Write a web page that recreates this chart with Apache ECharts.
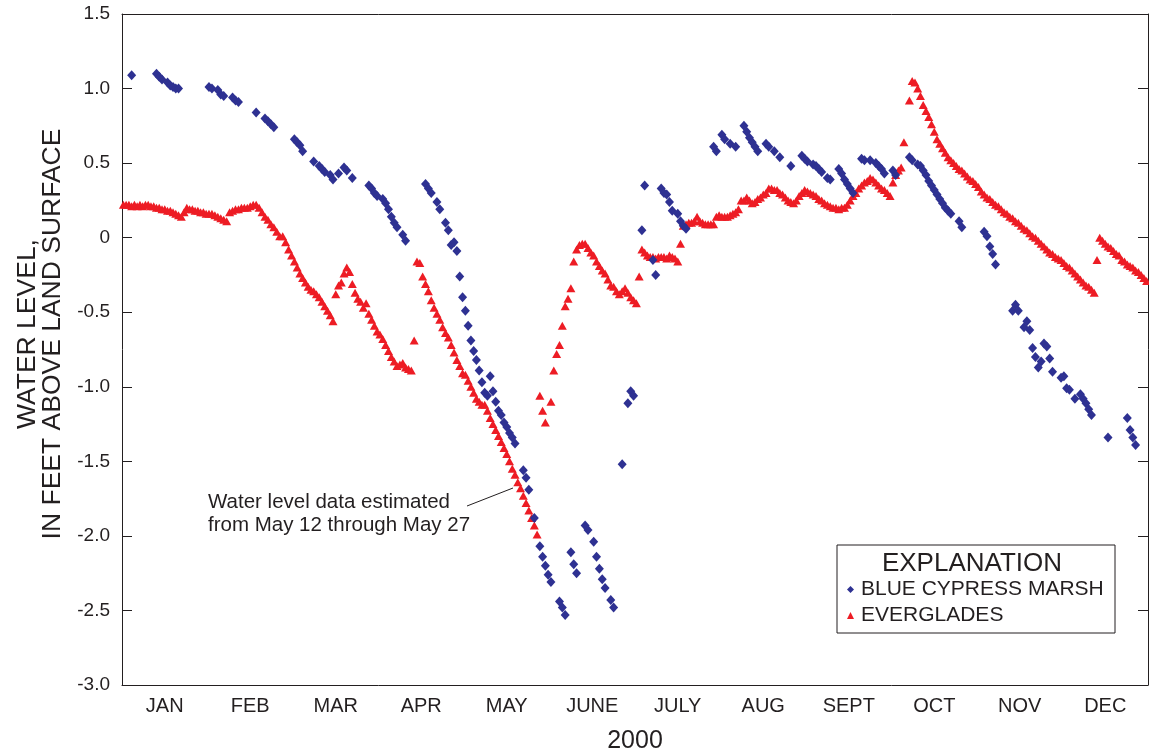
<!DOCTYPE html>
<html>
<head>
<meta charset="utf-8">
<script src="https://cdn.jsdelivr.net/npm/echarts@6/dist/echarts.min.js"></script>
<style>
html,body{margin:0;padding:0;background:#fff;}
#chart{width:1149px;height:753px;}
</style>
</head>
<body>
<div id="chart"></div>
<script>
// ---- data ----
const months = ['JAN','FEB','MAR','APR','MAY','JUNE','JULY','AUG','SEPT','OCT','NOV','DEC'];
const daysInMonth = [31,29,31,30,31,30,31,31,30,31,30,31];
const yearLabel = '2000';

// [month, day, water level (ft above land surface)]
const blueCypressMarsh = [
[1,4,1.09],[1,13,1.10],[1,14,1.08],[1,15,1.06],[1,17,1.04],[1,18,1.02],[1,19,1.01],[1,20,1.00],[1,21,1.00],
[2,1,1.01],[2,2,1.00],[2,4,0.99],[2,5,0.96],[2,6,0.95],[2,9,0.94],[2,10,0.92],[2,11,0.91],[2,17,0.84],[2,20,0.80],[2,21,0.78],[2,22,0.76],[2,23,0.74],
[3,1,0.66],[3,2,0.64],[3,3,0.62],[3,4,0.58],[3,8,0.51],[3,10,0.48],[3,11,0.46],[3,12,0.44],[3,14,0.42],[3,15,0.39],[3,17,0.43],[3,19,0.47],[3,20,0.45],[3,22,0.40],[3,28,0.35],[3,29,0.33],[3,30,0.30],[3,31,0.28],
[4,2,0.26],[4,3,0.23],[4,4,0.19],[4,5,0.14],[4,6,0.10],[4,7,0.07],[4,9,0.02],[4,10,-0.02],[4,17,0.36],[4,18,0.33],[4,19,0.30],[4,21,0.24],[4,22,0.19],[4,24,0.10],[4,25,0.05],[4,26,-0.05],[4,27,-0.03],[4,28,-0.09],[4,29,-0.26],[4,30,-0.40],
[5,1,-0.49],[5,2,-0.59],[5,3,-0.69],[5,4,-0.76],[5,5,-0.82],[5,6,-0.89],[5,7,-0.97],[5,8,-1.04],[5,9,-1.06],[5,10,-0.93],[5,11,-1.03],[5,12,-1.10],[5,13,-1.16],[5,14,-1.19],[5,15,-1.24],[5,16,-1.27],[5,17,-1.31],[5,18,-1.34],[5,19,-1.38],[5,22,-1.56],[5,23,-1.61],[5,24,-1.69],[5,26,-1.88],[5,28,-2.07],[5,29,-2.14],[5,30,-2.20],[5,31,-2.26],
[6,1,-2.31],[6,4,-2.44],[6,5,-2.48],[6,6,-2.53],[6,8,-2.11],[6,9,-2.19],[6,10,-2.25],[6,13,-1.93],[6,14,-1.96],[6,16,-2.04],[6,17,-2.14],[6,18,-2.22],[6,19,-2.29],[6,20,-2.35],[6,22,-2.43],[6,23,-2.48],[6,26,-1.52],[6,28,-1.11],[6,29,-1.03],[6,30,-1.06],
[7,3,0.05],[7,4,0.35],[7,7,-0.15],[7,8,-0.25],[7,10,0.33],[7,11,0.30],[7,12,0.29],[7,13,0.24],[7,14,0.18],[7,16,0.16],[7,17,0.11],[7,18,0.08],[7,19,0.06],[7,29,0.61],[7,30,0.58],
[8,1,0.69],[8,2,0.66],[8,4,0.63],[8,6,0.61],[8,9,0.75],[8,10,0.71],[8,11,0.67],[8,12,0.64],[8,13,0.61],[8,14,0.58],[8,17,0.63],[8,18,0.61],[8,20,0.58],[8,22,0.54],[8,26,0.48],[8,30,0.55],[8,31,0.53],
[9,1,0.51],[9,3,0.49],[9,4,0.48],[9,5,0.46],[9,6,0.44],[9,8,0.40],[9,9,0.39],[9,12,0.46],[9,13,0.43],[9,14,0.39],[9,15,0.36],[9,16,0.33],[9,17,0.30],[9,20,0.53],[9,21,0.52],[9,23,0.52],[9,25,0.50],[9,26,0.48],[9,27,0.46],[9,28,0.43],
[10,1,0.45],[10,2,0.42],[10,7,0.54],[10,8,0.52],[10,10,0.49],[10,11,0.48],[10,12,0.45],[10,13,0.42],[10,14,0.38],[10,15,0.35],[10,16,0.32],[10,17,0.29],[10,18,0.26],[10,19,0.23],[10,20,0.20],[10,21,0.18],[10,22,0.16],[10,25,0.11],[10,26,0.07],
[11,3,0.04],[11,4,0.01],[11,5,-0.06],[11,6,-0.11],[11,7,-0.18],[11,13,-0.49],[11,14,-0.45],[11,15,-0.49],[11,17,-0.60],[11,18,-0.56],[11,19,-0.62],[11,20,-0.74],[11,21,-0.80],[11,22,-0.87],[11,23,-0.83],[11,24,-0.71],[11,25,-0.73],[11,26,-0.81],[11,27,-0.90],[11,30,-0.94],
[12,1,-0.93],[12,2,-1.01],[12,3,-1.02],[12,5,-1.08],[12,7,-1.05],[12,8,-1.08],[12,9,-1.11],[12,10,-1.15],[12,11,-1.19],[12,17,-1.34],[12,24,-1.21],[12,25,-1.29],[12,26,-1.34],[12,27,-1.39]
];

const everglades = [
[1,1,0.22],[1,2,0.22],[1,3,0.22],[1,4,0.21],[1,5,0.22],[1,6,0.21],[1,7,0.22],[1,8,0.21],[1,9,0.22],[1,10,0.22],[1,11,0.21],[1,12,0.21],[1,13,0.20],[1,14,0.20],[1,15,0.19],[1,16,0.19],[1,17,0.18],[1,18,0.18],[1,19,0.17],[1,20,0.16],[1,21,0.15],[1,22,0.14],[1,23,0.17],[1,24,0.20],[1,25,0.19],[1,26,0.19],[1,27,0.18],[1,28,0.18],[1,29,0.17],[1,30,0.17],[1,31,0.16],
[2,1,0.16],[2,2,0.16],[2,3,0.15],[2,4,0.14],[2,5,0.13],[2,6,0.12],[2,7,0.11],[2,8,0.17],[2,9,0.18],[2,10,0.19],[2,11,0.19],[2,12,0.20],[2,13,0.20],[2,14,0.20],[2,15,0.21],[2,16,0.22],[2,17,0.22],[2,18,0.20],[2,19,0.17],[2,20,0.14],[2,21,0.12],[2,22,0.09],[2,23,0.07],[2,24,0.04],[2,25,0.01],[2,26,0.01],[2,27,-0.03],[2,28,-0.08],[2,29,-0.12],
[3,1,-0.16],[3,2,-0.20],[3,3,-0.24],[3,4,-0.27],[3,5,-0.30],[3,6,-0.33],[3,7,-0.35],[3,8,-0.36],[3,9,-0.38],[3,10,-0.40],[3,11,-0.43],[3,12,-0.46],[3,13,-0.49],[3,14,-0.52],[3,15,-0.56],[3,16,-0.38],[3,17,-0.32],[3,18,-0.30],[3,19,-0.24],[3,20,-0.20],[3,21,-0.23],[3,22,-0.31],[3,23,-0.37],[3,24,-0.41],[3,25,-0.43],[3,26,-0.47],[3,27,-0.44],[3,28,-0.51],[3,29,-0.55],[3,30,-0.59],[3,31,-0.63],
[4,1,-0.65],[4,2,-0.68],[4,3,-0.72],[4,4,-0.76],[4,5,-0.80],[4,6,-0.83],[4,7,-0.86],[4,8,-0.85],[4,9,-0.84],[4,10,-0.87],[4,11,-0.88],[4,12,-0.89],[4,13,-0.69],[4,14,-0.16],[4,15,-0.17],[4,16,-0.26],[4,17,-0.31],[4,18,-0.36],[4,19,-0.42],[4,20,-0.47],[4,21,-0.51],[4,22,-0.55],[4,23,-0.60],[4,24,-0.64],[4,25,-0.67],[4,26,-0.72],[4,27,-0.77],[4,28,-0.82],[4,29,-0.86],[4,30,-0.91],
[5,1,-0.92],[5,2,-0.96],[5,3,-1.00],[5,4,-1.04],[5,5,-1.08],[5,6,-1.10],[5,7,-1.12],[5,8,-1.12],[5,9,-1.16],[5,10,-1.21],[5,11,-1.25],[5,12,-1.29],[5,13,-1.33],[5,14,-1.37],[5,15,-1.41],[5,16,-1.45],[5,17,-1.50],[5,18,-1.55],[5,19,-1.59],[5,20,-1.64],[5,21,-1.68],[5,22,-1.73],[5,23,-1.78],[5,24,-1.83],[5,25,-1.88],[5,26,-1.93],[5,27,-1.99],[5,28,-1.06],[5,29,-1.16],[5,30,-1.24],
[6,1,-1.10],[6,2,-0.89],[6,3,-0.78],[6,4,-0.72],[6,5,-0.59],[6,6,-0.46],[6,7,-0.41],[6,8,-0.34],[6,9,-0.16],[6,10,-0.08],[6,11,-0.05],[6,12,-0.04],[6,13,-0.04],[6,14,-0.07],[6,15,-0.10],[6,16,-0.12],[6,17,-0.16],[6,18,-0.19],[6,19,-0.22],[6,20,-0.24],[6,21,-0.28],[6,22,-0.32],[6,23,-0.33],[6,24,-0.36],[6,25,-0.38],[6,26,-0.36],[6,27,-0.34],[6,28,-0.37],[6,29,-0.40],[6,30,-0.42],
[7,1,-0.44],[7,2,-0.26],[7,3,-0.08],[7,4,-0.10],[7,5,-0.12],[7,6,-0.13],[7,7,-0.13],[7,8,-0.14],[7,9,-0.13],[7,10,-0.13],[7,11,-0.13],[7,12,-0.14],[7,13,-0.12],[7,14,-0.13],[7,15,-0.14],[7,16,-0.16],[7,17,-0.04],[7,18,0.08],[7,19,0.09],[7,20,0.10],[7,21,0.10],[7,22,0.11],[7,23,0.14],[7,24,0.11],[7,25,0.10],[7,26,0.09],[7,27,0.09],[7,28,0.09],[7,29,0.09],[7,30,0.14],[7,31,0.15],
[8,1,0.14],[8,2,0.14],[8,3,0.14],[8,4,0.15],[8,5,0.16],[8,6,0.17],[8,7,0.19],[8,8,0.25],[8,9,0.25],[8,10,0.27],[8,11,0.25],[8,12,0.23],[8,13,0.24],[8,14,0.26],[8,15,0.27],[8,16,0.29],[8,17,0.30],[8,18,0.33],[8,19,0.33],[8,20,0.32],[8,21,0.32],[8,22,0.30],[8,23,0.29],[8,24,0.27],[8,25,0.25],[8,26,0.24],[8,27,0.23],[8,28,0.25],[8,29,0.28],[8,30,0.30],[8,31,0.32],
[9,1,0.31],[9,2,0.30],[9,3,0.29],[9,4,0.28],[9,5,0.26],[9,6,0.25],[9,7,0.23],[9,8,0.22],[9,9,0.21],[9,10,0.20],[9,11,0.20],[9,12,0.19],[9,13,0.20],[9,14,0.20],[9,15,0.22],[9,16,0.25],[9,17,0.28],[9,18,0.30],[9,19,0.33],[9,20,0.35],[9,21,0.37],[9,22,0.38],[9,23,0.40],[9,24,0.39],[9,25,0.37],[9,26,0.35],[9,27,0.33],[9,28,0.32],[9,29,0.30],[9,30,0.28],
[10,1,0.37],[10,2,0.42],[10,3,0.45],[10,4,0.47],[10,5,0.64],[10,7,0.92],[10,8,1.05],[10,9,1.04],[10,10,1.00],[10,11,0.95],[10,12,0.89],[10,13,0.85],[10,14,0.81],[10,15,0.76],[10,16,0.71],[10,17,0.66],[10,18,0.63],[10,19,0.60],[10,20,0.57],[10,21,0.54],[10,22,0.52],[10,23,0.50],[10,24,0.48],[10,25,0.46],[10,26,0.45],[10,27,0.43],[10,28,0.41],[10,29,0.39],[10,30,0.38],[10,31,0.36],
[11,1,0.34],[11,2,0.31],[11,3,0.29],[11,4,0.27],[11,5,0.26],[11,6,0.24],[11,7,0.22],[11,8,0.21],[11,9,0.19],[11,10,0.17],[11,11,0.16],[11,12,0.14],[11,13,0.13],[11,14,0.11],[11,15,0.10],[11,16,0.08],[11,17,0.06],[11,18,0.05],[11,19,0.03],[11,20,0.01],[11,21,0.00],[11,22,-0.02],[11,23,-0.04],[11,24,-0.06],[11,25,-0.08],[11,26,-0.10],[11,27,-0.11],[11,28,-0.13],[11,29,-0.14],[11,30,-0.15],
[12,1,-0.17],[12,2,-0.19],[12,3,-0.20],[12,4,-0.22],[12,5,-0.24],[12,6,-0.26],[12,7,-0.28],[12,8,-0.30],[12,9,-0.32],[12,10,-0.33],[12,11,-0.35],[12,12,-0.37],[12,13,-0.15],[12,14,0.00],[12,15,-0.02],[12,16,-0.04],[12,17,-0.06],[12,18,-0.07],[12,19,-0.09],[12,20,-0.11],[12,21,-0.12],[12,22,-0.15],[12,23,-0.16],[12,24,-0.18],[12,25,-0.19],[12,26,-0.20],[12,27,-0.22],[12,28,-0.23],[12,29,-0.25],[12,30,-0.27],[12,31,-0.29]
];

// ---- helpers ----
// each month occupies one equal unit on the x axis
function toPoint(r){ return [(r[0]-1) + (r[1]-0.5)/daysInMonth[r[0]-1], r[2]]; }

const FONT = "'Liberation Sans', Arial, Helvetica, sans-serif";
const INK = '#231f20';
const BLUE = '#2e3192';
const RED = '#ed1c24';

const chart = echarts.init(document.getElementById('chart'), null, {renderer:'canvas'});

const option = {
  animation:false,
  backgroundColor:'#fff',
  textStyle:{fontFamily:FONT, color:INK},
  grid:{left:122, right:1, top:14, bottom:68, containLabel:false, outerBoundsMode:'none'},
  xAxis:[
    {type:'category', data:months, position:'bottom', boundaryGap:true,
     axisLine:{onZero:false, lineStyle:{color:INK, width:1}},
     axisTick:{inside:true, length:9, lineStyle:{color:INK}},
     axisLabel:{fontSize:20, margin:11, color:INK, fontFamily:FONT},
     name:yearLabel, nameLocation:'middle', nameGap:44,
     nameTextStyle:{fontSize:25, color:INK, fontFamily:FONT}},
    {type:'category', data:months, position:'top', boundaryGap:true,
     axisLine:{onZero:false, lineStyle:{color:INK, width:1}},
     axisTick:{inside:true, length:9, lineStyle:{color:INK}},
     axisLabel:{show:false}},
    {type:'value', min:0, max:12, show:false}
  ],
  yAxis:[
    {type:'value', min:-3, max:1.5, interval:0.5, position:'left',
     axisLine:{show:true, onZero:false, lineStyle:{color:INK, width:1}},
     axisTick:{show:true, inside:true, length:10, lineStyle:{color:INK}},
     splitLine:{show:false},
     axisLabel:{fontSize:19, margin:12, color:INK, fontFamily:FONT,
       formatter:function(v){ return v===0 ? '0' : v.toFixed(1); }}},
    {type:'value', min:-3, max:1.5, interval:0.5, position:'right',
     axisLine:{show:true, onZero:false, lineStyle:{color:INK, width:1}},
     axisTick:{show:true, inside:true, length:10, lineStyle:{color:INK}},
     splitLine:{show:false}, axisLabel:{show:false}}
  ],
  series:[
    {name:'EVERGLADES', type:'scatter', xAxisIndex:2, yAxisIndex:0,
     symbol:'triangle', symbolSize:[9,8], z:2,
     itemStyle:{color:RED, opacity:1}, data:everglades.map(toPoint)},
    {name:'BLUE CYPRESS MARSH', type:'scatter', xAxisIndex:2, yAxisIndex:0,
     symbol:'diamond', symbolSize:[9,10], z:3,
     itemStyle:{color:BLUE, opacity:1}, data:blueCypressMarsh.map(toPoint)}
  ],
  legend:{
    data:['BLUE CYPRESS MARSH','EVERGLADES'], orient:'vertical',
    left:842, top:574, itemWidth:7, itemHeight:7, itemGap:5,
    textStyle:{fontSize:21, color:INK, fontFamily:FONT, padding:[0,0,0,2]},
    selectedMode:false
  },
  graphic:[
    {type:'rect', z:0, shape:{x:837, y:545, width:278, height:88},
     style:{fill:'#fff', stroke:INK, lineWidth:1}},
    {type:'text', z:1, x:972, y:564,
     style:{text:'EXPLANATION', font:'26px '+FONT, fill:INK, textAlign:'center', textVerticalAlign:'middle'}},
    {type:'text', x:208, y:491,
     style:{text:'Water level data estimated\nfrom May 12 through May 27', font:'20.5px '+FONT, fill:INK, lineHeight:23}},
    {type:'line', shape:{x1:467, y1:506, x2:513, y2:488}, style:{stroke:INK, lineWidth:1}},
    {type:'text', x:28, y:334, rotation:Math.PI/2,
     style:{text:'WATER LEVEL,', font:'26.5px '+FONT, fill:INK, textAlign:'center', textVerticalAlign:'middle'}},
    {type:'text', x:53, y:334, rotation:Math.PI/2,
     style:{text:'IN FEET ABOVE LAND SURFACE', font:'26.5px '+FONT, fill:INK, textAlign:'center', textVerticalAlign:'middle'}}
  ]
};
chart.setOption(option);
</script>
</body>
</html>
